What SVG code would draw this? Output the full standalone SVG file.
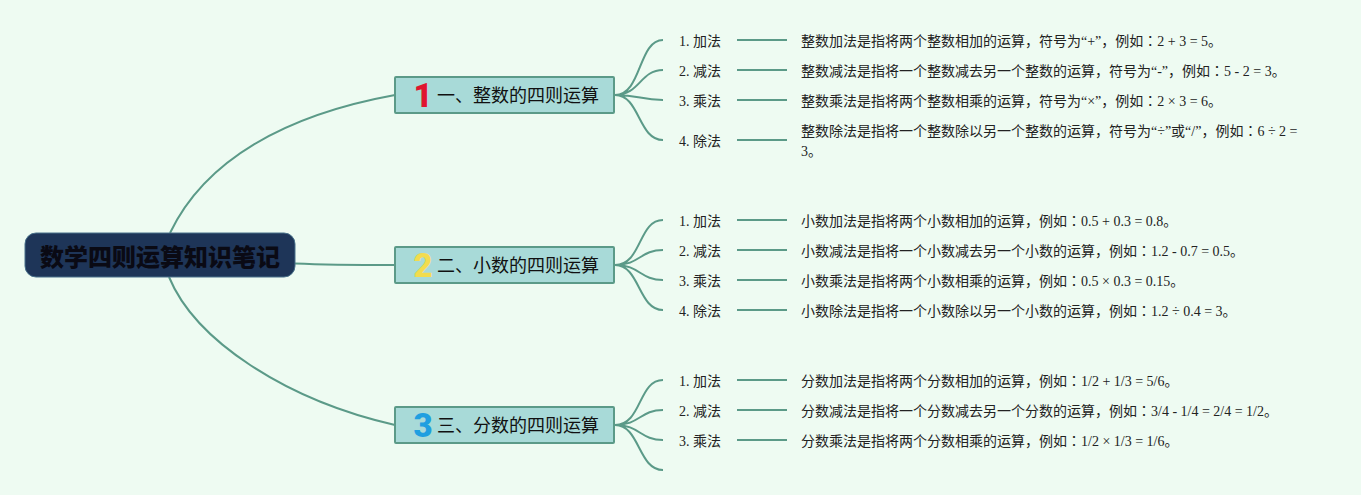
<svg xmlns="http://www.w3.org/2000/svg" width="1361" height="495" viewBox="0 0 1361 495">
<style>
text{font-family:"Liberation Serif","Noto Sans CJK SC",serif;font-size:14px;fill:#222}
.c{fill:none;stroke:#5b9a88;stroke-width:2}
.b{fill:#a8dad8;stroke:#5b9a88;stroke-width:2}
text.t{font-family:"Noto Sans CJK SC",sans-serif;font-size:18px;fill:#111}
text.n{font-family:"Roboto","Noto Sans",sans-serif;font-size:33px;font-weight:900;text-anchor:middle}
text.n1{fill:#e0142f}
text.n2{fill:#f2dc4e}
text.n3{fill:#1f9fe0}
.k{font-family:"Noto Sans CJK JP",sans-serif}
text.r{font-family:"Noto Sans CJK SC",sans-serif;font-size:24px;font-weight:900;fill:#0a0a14}
</style>
<rect width="1361" height="495" fill="#eefbf2"/>
<g id="connectors">
<path class="c" d="M170 233C205 160 285 115 395 95"/>
<path class="c" d="M295 263.500C330 265 360 265 395 265"/>
<path class="c" d="M169 277C195 340 285 400 395 425"/>
<path class="c" d="M615 95C642 95 638 40 663 40M615 95C640 95 640 70 663 70M615 95C640 95 640 100 663 100M615 95C640 95 638 140 663 140"/>
<path class="c" d="M615 265C642 265 638 220 663 220M615 265C640 265 640 250 663 250M615 265C640 265 640 280 663 280M615 265C640 265 638 310 663 310"/>
<path class="c" d="M615 425C642 425 638 380 663 380M615 425C640 425 640 410 663 410M615 425C640 425 640 440 663 440M615 425C640 425 638 470 663 470"/>
<path class="c" d="M737 40H787M737 70H787M737 100H787M737 140H787M737 220H787M737 250H787M737 280H787M737 310H787M737 380H787M737 410H787M737 440H787"/>
</g>
<g id="root"><rect x="25" y="233" width="270" height="44" rx="11" fill="#1e3558" stroke="#48708a" stroke-width="1"/><text class="r" x="40" y="266">数学四则运算知识笔记</text></g>
<g id="b1"><rect class="b" x="395" y="77" width="219" height="36" rx="1"/><text class="n n1" x="423" y="107">1</text><text class="t" x="437" y="102">一、整数的四则运算</text></g>
<g id="b2"><rect class="b" x="395" y="247" width="219" height="36" rx="1"/><text class="n n2" x="423" y="277">2</text><text class="t" x="437" y="272">二、小数的四则运算</text></g>
<g id="b3"><rect class="b" x="395" y="407" width="219" height="36" rx="1"/><text class="n n3" x="423" y="437">3</text><text class="t" x="437" y="432">三、分数的四则运算</text></g>
<g id="l1-1"><text x="679" y="46">1. 加法</text><text x="801" y="46">整数加法是指将两个整数相加的运算，符号为“+”，例如<tspan class="k">：</tspan>2 + 3 = 5。</text></g>
<g id="l1-2"><text x="679" y="76">2. 减法</text><text x="801" y="76">整数减法是指将一个整数减去另一个整数的运算，符号为“-”，例如<tspan class="k">：</tspan>5 - 2 = 3。</text></g>
<g id="l1-3"><text x="679" y="106">3. 乘法</text><text x="801" y="106">整数乘法是指将两个整数相乘的运算，符号为“×”，例如<tspan class="k">：</tspan>2 × 3 = 6。</text></g>
<g id="l1-4"><text x="679" y="146">4. 除法</text><text x="801" y="136">整数除法是指将一个整数除以另一个整数的运算，符号为“÷”或“/”，例如<tspan class="k">：</tspan>6 ÷ 2 =</text><text x="801" y="156">3。</text></g>
<g id="l2-1"><text x="679" y="226">1. 加法</text><text x="801" y="226">小数加法是指将两个小数相加的运算，例如<tspan class="k">：</tspan>0.5 + 0.3 = 0.8。</text></g>
<g id="l2-2"><text x="679" y="256">2. 减法</text><text x="801" y="256">小数减法是指将一个小数减去另一个小数的运算，例如<tspan class="k">：</tspan>1.2 - 0.7 = 0.5。</text></g>
<g id="l2-3"><text x="679" y="286">3. 乘法</text><text x="801" y="286">小数乘法是指将两个小数相乘的运算，例如<tspan class="k">：</tspan>0.5 × 0.3 = 0.15。</text></g>
<g id="l2-4"><text x="679" y="316">4. 除法</text><text x="801" y="316">小数除法是指将一个小数除以另一个小数的运算，例如<tspan class="k">：</tspan>1.2 ÷ 0.4 = 3。</text></g>
<g id="l3-1"><text x="679" y="386">1. 加法</text><text x="801" y="386">分数加法是指将两个分数相加的运算，例如<tspan class="k">：</tspan>1/2 + 1/3 = 5/6。</text></g>
<g id="l3-2"><text x="679" y="416">2. 减法</text><text x="801" y="416">分数减法是指将一个分数减去另一个分数的运算，例如<tspan class="k">：</tspan>3/4 - 1/4 = 2/4 = 1/2。</text></g>
<g id="l3-3"><text x="679" y="446">3. 乘法</text><text x="801" y="446">分数乘法是指将两个分数相乘的运算，例如<tspan class="k">：</tspan>1/2 × 1/3 = 1/6。</text></g>
</svg>
